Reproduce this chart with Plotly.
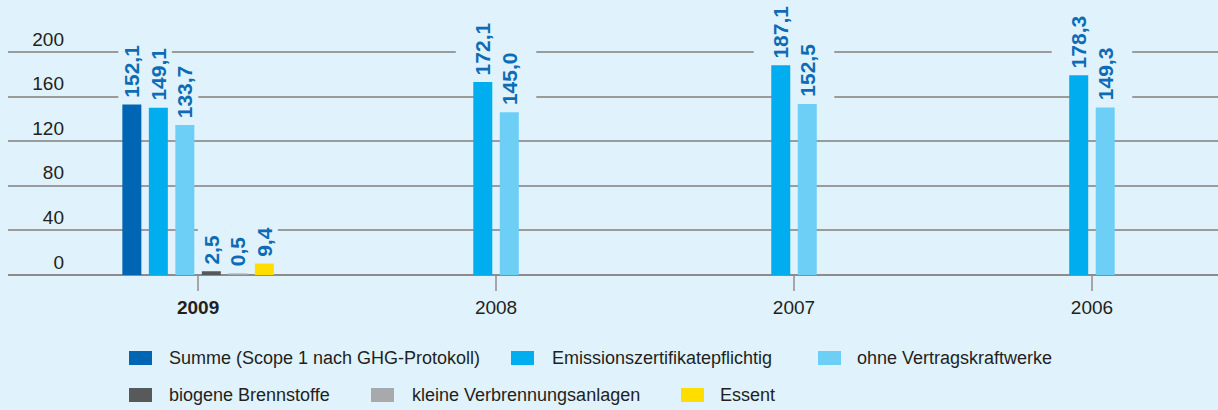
import plotly.graph_objects as go

# data
categories = ["2009", "2008", "2007", "2006"]
summe = [152.1, None, None, None]
emission = [149.1, 172.1, 187.1, 178.3]
ohne_vertrag = [133.7, 145.0, 152.5, 149.3]
biogen = [2.5, None, None, None]
klein = [0.5, None, None, None]
essent = [9.4, None, None, None]
y_ticks = [0, 40, 80, 120, 160, 200]

series = [summe, emission, ohne_vertrag, biogen, klein, essent]
names = ["Summe (Scope 1 nach GHG-Protokoll)", "Emissionszertifikatepflichtig",
         "ohne Vertragskraftwerke", "biogene Brennstoffe",
         "kleine Verbrennungsanlagen", "Essent"]
colors = ["#0066B3", "#00AEEF", "#6DCFF6", "#58595B", "#A7A9AC", "#FFDD00"]

# layout constants
W, H = 1218, 410
ML, MR, MT, MB = 8, 0, 0, 135
PW, PH = W - ML - MR, H - MT - MB
BG = "#E0F2FC"
FONT = "Liberation Sans, Arial, sans-serif"
TXT = "#231f20"
LABEL = "#0D6CB5"

x_range = [-0.638, 3.423]
y_range = [0, 246.6]
unit_px = PW / (x_range[1] - x_range[0])
bar_w = 17 / unit_px          # + 2px outline in the same colour -> 19px
pitch = 26.5 / unit_px

# center offset of every bar inside its year group
centers = {}
for ci in range(len(categories)):
    present = [si for si, s in enumerate(series) if s[ci] is not None]
    n = len(present)
    for k, si in enumerate(present):
        centers[(si, ci)] = (k - (n - 1) / 2) * pitch

fig = go.Figure()

for si, s in enumerate(series):
    fig.add_trace(go.Bar(
        x=categories, y=s, name=names[si],
        width=bar_w,
        offset=[centers.get((si, ci), 0) - bar_w / 2 for ci in range(len(categories))],
        marker=dict(color=colors[si], line=dict(width=2, color=colors[si])),
        showlegend=False,
    ))

# value labels + masks that cut the gridlines behind them
shapes = []
annotations = []
for si, s in enumerate(series):
    for ci, v in enumerate(s):
        if v is None:
            continue
        xc = ci + centers[(si, ci)]
        n_in_group = sum(1 for t in series if t[ci] is not None)
        hw = 13.5 if n_in_group > 2 else 27
        shapes.append(dict(
            type="rect", xref="x", yref="y", layer="between",
            xsizemode="pixel", xanchor=xc, x0=-hw, x1=hw,
            ysizemode="pixel", yanchor=v, y0=2, y1=64,
            fillcolor=BG, line=dict(width=0),
        ))
        annotations.append(dict(
            x=xc, y=v, xref="x", yref="y",
            text=f"{v:.1f}".replace(".", ","),
            textangle=-90, showarrow=False,
            xanchor="center", yanchor="bottom", yshift=6,
            font=dict(family=FONT, size=21, color=LABEL, weight="bold"),
        ))

# legend drawn by hand: rectangles + text
def px_x(px):
    return (px - ML) / PW

def px_y(py):
    return (MT + PH - py) / PH

legend_items = [(0, 358, 129, 167), (1, 358, 511, 550), (2, 358, 818, 855),
                (3, 395, 129, 167), (4, 395, 371, 410), (5, 395, 681, 718)]
for si, row_y, sx, tx in legend_items:
    shapes.append(dict(
        type="rect", xref="paper", yref="paper",
        x0=px_x(sx), x1=px_x(sx + 23), y0=px_y(row_y + 7), y1=px_y(row_y - 7),
        fillcolor=colors[si], line=dict(width=0),
    ))
    annotations.append(dict(
        x=px_x(tx), y=px_y(row_y), xref="paper", yref="paper",
        text=names[si], showarrow=False, xanchor="left", yanchor="middle",
        font=dict(family=FONT, size=18, color=TXT),
    ))

fig.update_layout(
    width=W, height=H,
    margin=dict(l=ML, r=MR, t=MT, b=MB, pad=0),
    paper_bgcolor=BG, plot_bgcolor=BG,
    barmode="overlay",
    showlegend=False,
    shapes=shapes, annotations=annotations,
    font=dict(family=FONT, color=TXT),
    xaxis=dict(
        type="category", range=x_range,
        tickvals=categories,
        ticktext=["<b>" + categories[0] + "</b>"] + categories[1:],
        ticks="outside", ticklen=15, tickwidth=1.5, tickcolor="#A6A6A6",
        showgrid=False, showline=False, zeroline=False,
        tickfont=dict(size=19, color=TXT),
    ),
    yaxis=dict(
        range=y_range, tickvals=y_ticks,
        anchor="free", position=(64 - ML) / PW,
        showgrid=True, gridcolor="#9B9B9B", gridwidth=1.5,
        zeroline=True, zerolinecolor="#8C8C8C", zerolinewidth=1.5,
        showline=False, ticks="", ticklabelshift=-13,
        tickfont=dict(size=19, color=TXT),
    ),
)

fig.write_html("out.html", config={"displayModeBar": False},
               post_script="document.body.style.margin='0';")
